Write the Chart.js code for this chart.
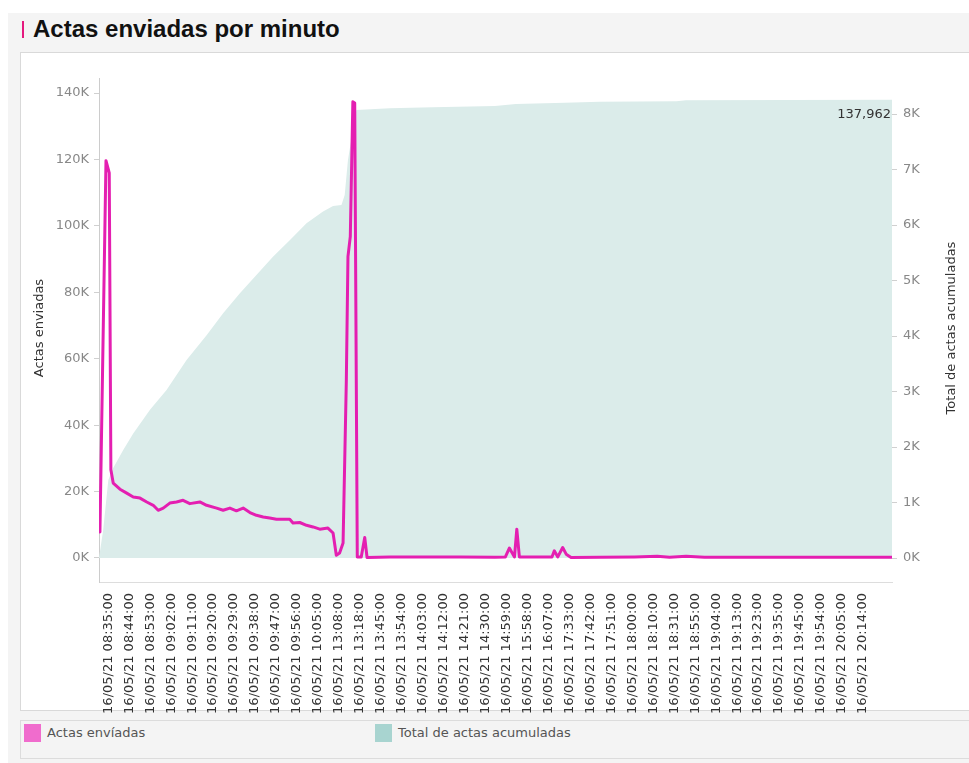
<!DOCTYPE html>
<html>
<head>
<meta charset="utf-8">
<script src="https://cdn.jsdelivr.net/npm/chart.js@4"></script>
<style>
  html, body { margin: 0; padding: 0; background: #fff; }
  body { width: 969px; height: 763px; position: relative; overflow: hidden; font-family: "DejaVu Sans", sans-serif; }
  .sheet { position: absolute; left: 8px; top: 13px; width: 961px; height: 750px; background: #f4f4f4; }
  .title { position: absolute; left: 33px; top: 17px; font: bold 24px "Liberation Sans", Arial, sans-serif; line-height: 24px; color: #111; }
  .title-mark { position: absolute; left: 22px; top: 21px; width: 2px; height: 17px; background: #e5197e; }
  .panel { position: absolute; left: 20px; top: 52px; width: 960px; height: 657px; background: #fff; border: 1px solid #d9d9d9; }
  .legend { position: absolute; left: 20px; top: 720px; width: 960px; height: 37px; background: #f4f4f4; border: 1px solid #dcdcdc; }
  .legend .item { position: absolute; top: 3px; font-size: 13px; color: #555; line-height: 18px; }
  .legend .sw { display: inline-block; width: 17px; height: 18px; vertical-align: top; margin-right: 6px; }
  canvas { position: absolute; left: 0; top: 0; }
</style>
</head>
<body>
<div class="sheet"></div>
<div class="title-mark"></div>
<div class="title">Actas enviadas por minuto</div>
<div class="panel"></div>
<div class="legend">
  <div class="item" style="left:3px"><span class="sw" style="background:#f06ccd"></span>Actas envíadas</div>
  <div class="item" style="left:354px"><span class="sw" style="background:#a8d4d0"></span>Total de actas acumuladas</div>
</div>
<canvas id="chart" width="969" height="763"></canvas>
<script>
// x tick labels, one every 9 minute slots
const tickLabels = [
  '16/05/21 08:35:00', '16/05/21 08:44:00', '16/05/21 08:53:00', '16/05/21 09:02:00',
  '16/05/21 09:11:00', '16/05/21 09:20:00', '16/05/21 09:29:00', '16/05/21 09:38:00',
  '16/05/21 09:47:00', '16/05/21 09:56:00', '16/05/21 10:05:00', '16/05/21 13:08:00',
  '16/05/21 13:18:00', '16/05/21 13:45:00', '16/05/21 13:54:00', '16/05/21 14:03:00',
  '16/05/21 14:12:00', '16/05/21 14:21:00', '16/05/21 14:30:00', '16/05/21 14:59:00',
  '16/05/21 15:58:00', '16/05/21 16:07:00', '16/05/21 17:33:00', '16/05/21 17:42:00',
  '16/05/21 17:51:00', '16/05/21 18:00:00', '16/05/21 18:10:00', '16/05/21 18:31:00',
  '16/05/21 18:55:00', '16/05/21 19:04:00', '16/05/21 19:13:00', '16/05/21 19:23:00',
  '16/05/21 19:35:00', '16/05/21 19:45:00', '16/05/21 19:54:00', '16/05/21 20:05:00',
  '16/05/21 20:14:00'
];

// actas per minute, x = minute slot
const enviadasIdx = [0.4, 3.0, 4.4, 5.1, 6.1, 9.0, 11.9, 14.7, 17.6, 20.5, 23.3, 25.4, 27.6, 30.4,
  33.3, 36.1, 39.0, 43.3, 46.2, 50.5, 53.3, 56.2, 59.0, 61.9, 64.8, 67.6, 70.5, 73.3, 76.2, 79.0,
  81.9, 83.3, 86.2, 89.1, 91.9, 94.8, 98.3, 100.5, 101.9, 103.3, 104.8, 106.2, 106.9, 107.9, 109.0,
  109.8, 110.9, 112.6, 114.1, 115.1, 125, 140, 155, 170, 174.5, 176.2, 178.4, 179.4, 180.5, 190,
  194.5, 195.5, 197.0, 199.1, 200.6, 202.7, 215, 230, 239.7, 245, 252.1, 260, 280, 300, 320, 340.5];
const enviadasVal = [470, 7160, 6940, 1590, 1350, 1240, 1170, 1100, 1080, 1010, 950, 860, 900, 990,
  1010, 1040, 980, 1010, 950, 900, 860, 900, 850, 900, 820, 770, 740, 720, 700, 700,
  700, 630, 640, 590, 560, 520, 540, 450, 50, 90, 270, 3200, 5430, 5790, 8220,
  8200, 20, 20, 370, 10, 20, 20, 20, 15, 20, 180, 20, 520, 20, 20,
  20, 130, 20, 190, 70, 10, 15, 20, 30, 15, 30, 15, 15, 15, 15, 15];

// running total of actas
const acumIdx = [0, 1.8, 4.0, 6.1, 10.4, 14.7, 21.9, 29.0, 37.6, 46.2, 53.3, 60.5, 67.6, 74.7,
  81.9, 89.1, 96.2, 100.5, 104.1, 105.5, 106.9, 109.0, 110.5, 124.8, 143.3, 170, 179, 200, 215,
  248, 252, 340.5];
const acumVal = [0, 8400, 23500, 27100, 32500, 37500, 44600, 50600, 59600, 67100, 73700, 79700,
  85200, 90700, 95700, 100800, 104300, 106000, 106300, 109300, 119800, 128900, 134900, 135400,
  135700, 136100, 136700, 137100, 137400, 137500, 137800, 137962];

const leftTicks = [0, 20000, 40000, 60000, 80000, 100000, 120000, 140000];
const rightTicks = [0, 1000, 2000, 3000, 4000, 5000, 6000, 7000, 8000];

const tickFont = { family: 'DejaVu Sans', size: 13 };

const extraText = {
  id: 'extraText',
  afterDraw(chart) {
    const ctx = chart.ctx;
    ctx.save();
    ctx.fillStyle = '#333';
    ctx.font = '13px "DejaVu Sans"';
    ctx.textAlign = 'center';
    ctx.textBaseline = 'middle';
    [[40, 328, 'Actas enviadas'], [952, 328, 'Total de actas acumuladas']].forEach(([x, y, t]) => {
      ctx.save();
      ctx.translate(x, y);
      ctx.rotate(-Math.PI / 2);
      ctx.fillText(t, 0, 0);
      ctx.restore();
    });
    // label on the last point of the running total
    const meta = chart.getDatasetMeta(0);
    const last = meta.data[meta.data.length - 1];
    ctx.textAlign = 'right';
    ctx.fillText(acumVal[acumVal.length - 1].toLocaleString('en-US'), last.x - 1, last.y + 15);
    ctx.restore();
  }
};

new Chart(document.getElementById('chart'), {
  type: 'line',
  data: {
    datasets: [{
      label: 'Total de actas acumuladas',
      data: acumIdx.map((x, i) => ({ x: x, y: acumVal[i] })),
      yAxisID: 'y',
      order: 2,
      fill: 'origin',
      backgroundColor: '#dbecea',
      borderColor: 'rgba(0,0,0,0)',
      borderWidth: 0,
      pointRadius: 0
    }, {
      label: 'Actas envíadas',
      data: enviadasIdx.map((x, i) => ({ x: x, y: enviadasVal[i] })),
      yAxisID: 'y1',
      order: 1,
      borderColor: '#e41fb1',
      borderWidth: 3,
      borderJoinStyle: 'round',
      borderCapStyle: 'round',
      pointRadius: 0,
      fill: false
    }]
  },
  options: {
    responsive: false,
    animation: false,
    events: [],
    layout: { padding: { top: 78, left: 0, right: 0, bottom: 0 } },
    plugins: { legend: { display: false }, tooltip: { enabled: false } },
    scales: {
      x: {
        type: 'linear',
        min: 0,
        max: 340.5,
        afterBuildTicks: (scale) => { scale.ticks = tickLabels.map((l, k) => ({ value: 4 + 9 * k })); },
        afterFit: (scale) => { scale.height = 181; },
        ticks: {
          autoSkip: false,
          minRotation: 90,
          maxRotation: 90,
          padding: 3,
          color: '#333',
          font: tickFont,
          callback: (v) => tickLabels[Math.round((v - 4) / 9)]
        },
        grid: { display: false },
        border: { display: true, color: '#dddddd' }
      },
      y: {
        position: 'left',
        min: -7230,
        max: 144520,
        afterBuildTicks: (scale) => { scale.ticks = leftTicks.map(v => ({ value: v })); },
        afterFit: (scale) => { scale.width = 99; },
        ticks: { color: '#888', font: tickFont, padding: 5, callback: (v) => (v / 1000) + 'K' },
        grid: { drawOnChartArea: false, tickLength: 5, color: '#d0d0d0' },
        border: { display: true, color: '#cccccc' }
      },
      y1: {
        position: 'right',
        min: -432,
        max: 8649,
        afterBuildTicks: (scale) => { scale.ticks = rightTicks.map(v => ({ value: v })); },
        afterFit: (scale) => { scale.width = 77; },
        ticks: { color: '#888', font: tickFont, padding: 6, callback: (v) => (v / 1000) + 'K' },
        grid: { drawOnChartArea: false, tickLength: 5, color: '#d0d0d0' },
        border: { display: false }
      }
    }
  },
  plugins: [extraText]
});
</script>
</body>
</html>
